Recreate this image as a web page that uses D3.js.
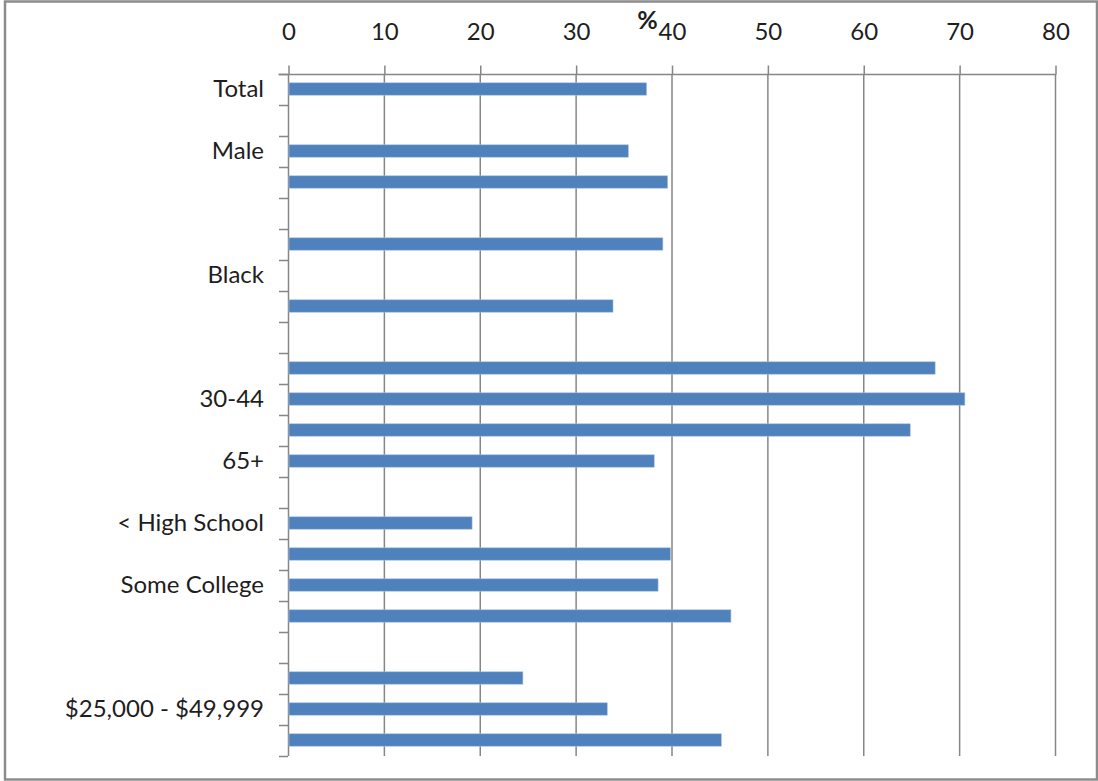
<!DOCTYPE html>
<html>
<head>
<meta charset="utf-8">
<script src="https://cdn.jsdelivr.net/npm/d3@7"></script>
<style>
  html, body { margin: 0; padding: 0; background: #fff; }
  svg { display: block; }
  text { font-family: Lato, "Open Sans", sans-serif; fill: #1e1e1e; }
</style>
</head>
<body>
<svg id="chart" width="1098" height="781"></svg>
<script>
// Categories (top to bottom); only every other label is shown, as in the original
const categories = [
  "Total", "", "Male", "Female", "", "White", "Black", "Hispanic", "",
  "18-29", "30-44", "45-64", "65+", "",
  "< High School", "High School", "Some College", "College +", "",
  "< $25,000", "$25,000 - $49,999", "$50,000 +"
];
// Percent values (null = no bar)
const values = [
  37.4, null, 35.5, 39.6, null, 39.1, null, 33.9, null,
  67.5, 70.6, 64.9, 38.2, null,
  19.2, 39.9, 38.6, 46.2, null,
  24.5, 33.3, 45.2
];
const xTicks = [0, 10, 20, 30, 40, 50, 60, 70, 80];
const axisTitle = "%";

(function () {
const svg = d3.select("#chart");
const pL = 288, pR = 1055, pT = 74, pB = 756;
const axisColor = "#868686";
const barColor = "#4F81BD";
const fs = "24px";

// outer border
svg.append("rect")
  .attr("x", 5).attr("y", 1.5).attr("width", 1092).attr("height", 778)
  .attr("fill", "none").attr("stroke", "#8c8c8c").attr("stroke-width", 2.5);

const x = d3.scaleLinear().domain([0, 80]).range([pL, pR]);
const idx = d3.range(categories.length);
const y = d3.scaleBand().domain(idx).range([pT, pB]).paddingInner(0).paddingOuter(0);

// vertical gridlines
svg.append("g").selectAll("line")
  .data(xTicks.filter(d => d > 0))
  .join("line")
  .attr("x1", d => x(d) + 0.5).attr("x2", d => x(d) + 0.5)
  .attr("y1", pT).attr("y2", pB)
  .attr("stroke", axisColor).attr("stroke-width", 1.5);

// top axis
const gx = svg.append("g")
  .attr("transform", `translate(0.5,${pT + 0.5})`)
  .call(d3.axisTop(x).tickValues(xTicks).tickSize(9).tickPadding(26).tickFormat(d3.format("d")));
gx.select(".domain").attr("stroke", axisColor).attr("stroke-width", 1.5)
  .attr("d", `M${pL - 10},0H${pR}`);
gx.selectAll(".tick line").attr("stroke", axisColor).attr("stroke-width", 1.5);
gx.selectAll(".tick text")
  .style("font-family", "Lato, sans-serif").style("font-size", fs).attr("fill", "#1e1e1e");

// axis title
svg.append("text")
  .attr("x", x(37.5)).attr("y", 29)
  .attr("text-anchor", "middle")
  .style("font-size", "25px").style("font-weight", "bold")
  .text(axisTitle);

// left axis (labels)
const gy = svg.append("g")
  .attr("transform", `translate(${pL},0)`)
  .call(d3.axisLeft(y).tickSize(0).tickPadding(24)
    .tickFormat(i => (i % 2 === 0 ? categories[i] : "")));
gy.select(".domain").remove();
gy.selectAll(".tick text")
  .style("font-family", "Lato, sans-serif").style("font-size", fs).attr("fill", "#1e1e1e");

// y axis line & boundary ticks
svg.append("line")
  .attr("x1", pL + 0.5).attr("x2", pL + 0.5).attr("y1", pT).attr("y2", pB)
  .attr("stroke", axisColor).attr("stroke-width", 1.5);
svg.append("g").selectAll("line")
  .data(idx.concat([categories.length]))
  .join("line")
  .attr("x1", pL - 9).attr("x2", pL)
  .attr("y1", i => (i < categories.length ? y(i) : pB) + 0.5)
  .attr("y2", i => (i < categories.length ? y(i) : pB) + 0.5)
  .attr("stroke", axisColor).attr("stroke-width", 1.5);

// bars
const barH = y.bandwidth() * 0.4;
svg.append("g").selectAll("rect")
  .data(idx.filter(i => values[i] != null))
  .join("rect")
  .attr("x", x(0) + 1)
  .attr("y", i => y(i) + (y.bandwidth() - barH) / 2 - 0.5)
  .attr("width", i => x(values[i]) - x(0) - 1)
  .attr("height", barH)
  .attr("fill", barColor)
  .attr("stroke", "#a7bfde").attr("stroke-width", 0.6);
})();
</script>
</body>
</html>
